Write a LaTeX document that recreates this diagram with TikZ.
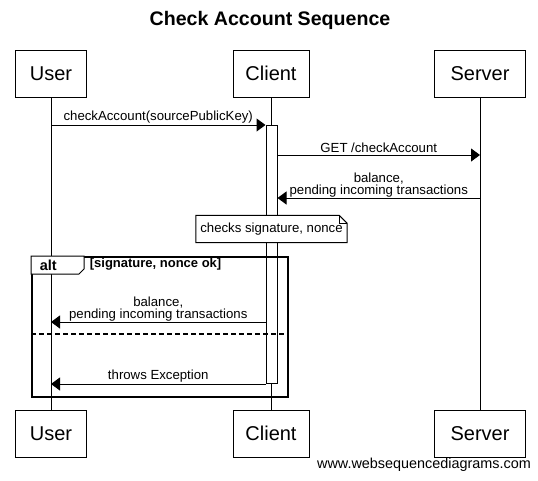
\documentclass[tikz,border=0pt]{standalone}
\usepackage{fontspec}
\setmainfont{Liberation Sans}
\usetikzlibrary{arrows.meta,calc,positioning}
\tikzset{msg/.style={-{Triangle[length=9pt,width=13pt]}},
  actor/.style={draw, minimum height=47pt, font=\fontsize{20}{24}\selectfont},
  lbl/.style={font=\fontsize{13.2}{12.5}\selectfont, align=center, inner sep=1.5pt}}

\begin{document}
\begin{tikzpicture}[x=1pt, y=-1pt, line width=1pt]
  \useasboundingbox (0,0) rectangle (538,480);
  % title
  \node[font=\bfseries\fontsize{19.6}{22}\selectfont] (title) at (270,20) {Check Account Sequence};
  % participants
  \node[actor, minimum width=71pt] (user) at (51,73.5) {User};
  \node[actor, minimum width=76pt] (client) at (271,73.5) {Client};
  \node[actor, minimum width=91pt] (server) at (480,73.5) {Server};
  \node[actor, minimum width=71pt] (userB) at (51,433.5) {User};
  \node[actor, minimum width=76pt] (clientB) at (271,433.5) {Client};
  \node[actor, minimum width=91pt] (serverB) at (480,433.5) {Server};
  % lifelines
  \draw (user.south) -- (userB.north);
  \draw (client.south) -- (clientB.north);
  \draw (server.south) -- (serverB.north);
  % activation of client
  \node[draw, fill=white, minimum width=11pt, minimum height=258pt, inner sep=0pt] (act) at (271.5,254) {};
  % message ends
  \coordinate (u1) at (user.south |- 0,125);
  \coordinate (c1) at (act.west |- 0,125);
  \coordinate (c2) at (act.east |- 0,155);
  \coordinate (s2) at (server.south |- 0,155);
  \coordinate (s3) at (server.south |- 0,198);
  \coordinate (c3) at (act.east |- 0,198);
  \coordinate (c4) at (act.west |- 0,322);
  \coordinate (u4) at (user.south |- 0,322);
  \coordinate (c5) at (act.west |- 0,384);
  \coordinate (u5) at (user.south |- 0,384);
  % messages
  \draw[msg] (u1) -- (c1) node[lbl, midway, above] {checkAccount(sourcePublicKey)};
  \draw[msg] (c2) -- (s2) node[lbl, midway, above] {GET /checkAccount};
  \draw[msg] (s3) -- (c3) node[lbl, midway, above, inner ysep=0pt] {balance,\\pending incoming transactions};
  % note
  \node[lbl, inner xsep=4pt, inner ysep=7pt] (note) at (271.5,229) {checks signature, nonce};
  \draw[fill=white] (note.south west) -- (note.north west) -- ($(note.north east)+(-8,0)$)
    -- ($(note.north east)+(0,8)$) -- (note.south east) -- cycle;
  \draw ($(note.north east)+(-8,0)$) |- ($(note.north east)+(0,8)$);
  \node[lbl, inner xsep=4pt, inner ysep=7pt] at (note) {checks signature, nonce};
  % alt frame
  \node[draw, line width=2pt, minimum width=256pt, minimum height=140pt, inner sep=0pt] (alt) at (160,327) {};
  \draw[fill=white] (alt.north west) -- ++(53,0) -- ++(0,13) -- ++(-5,5) -- ++(-48,0) -- cycle;
  \node[font=\bfseries\fontsize{14.5}{14}\selectfont, anchor=west] (altk) at ($(alt.north west)+(5,9)$) {alt};
  \node[font=\bfseries\fontsize{13}{12}\selectfont, anchor=west] (cond) at ($(alt.north west)+(55,8)$) {[signature, nonce ok]};
  \draw[dashed, dash pattern=on 5pt off 3pt, line width=2pt] (alt.west |- 0,334) -- (alt.east |- 0,334);
  \draw[msg] (c4) -- (u4) node[lbl, midway, above, inner ysep=0pt] {balance,\\pending incoming transactions};
  \draw[msg] (c5) -- (u5) node[lbl, midway, above] {throws Exception};
  % footer
  \node[font=\fontsize{14.4}{14}\selectfont] (foot) at (424,465) {www.websequencediagrams.com};
\end{tikzpicture}
\end{document}
